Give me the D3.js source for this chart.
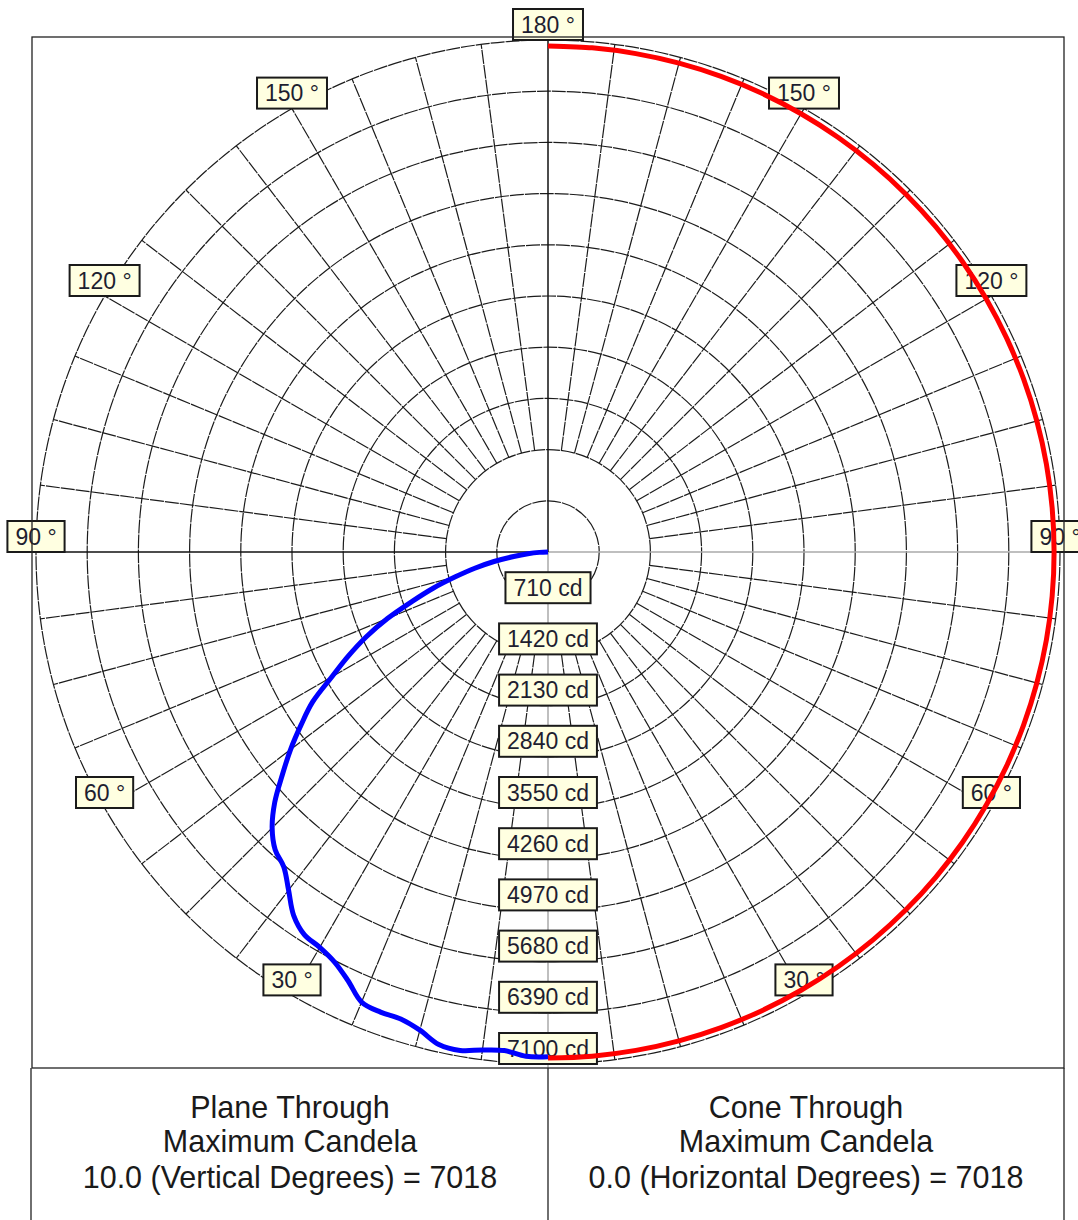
<!DOCTYPE html>
<html>
<head>
<meta charset="utf-8">
<script src="https://cdn.jsdelivr.net/npm/d3@7"></script>
<style>
  html, body { margin: 0; padding: 0; background: #fff; }
  svg { display: block; }
  text { font-family: "Liberation Sans", Arial, sans-serif; }
</style>
</head>
<body>
<svg id="chart" width="1078" height="1220"></svg>
<script>
// Candela rings (cd) labelled along the lower vertical axis
const ringValues = [710, 1420, 2130, 2840, 3550, 4260, 4970, 5680, 6390, 7100];
const ringLabels = ringValues.map(v => v + " cd");

// Angle labels shown on both halves of the diagram
const angleTicks = [30, 60, 90, 120, 150, 180];
const angleLabels = angleTicks.map(a => a + " °");

// Plane through maximum candela: vertical angle (deg) -> candela
const planeAngles = [0, 2.5, 5, 7.5, 10, 12.5, 15, 17.5, 20, 22.5, 25, 27.5, 30, 32.5, 35, 37.5,
  40, 42.5, 45, 47.5, 50, 52.5, 55, 57.5, 60, 62.5, 65, 67.5, 70, 72.5, 75, 77.5, 80, 82.5, 85, 87.5, 90];
const planeCandela = [7000, 7000, 6940, 6965, 7018, 6995, 6865, 6790, 6790, 6755, 6560, 6410, 6330, 6290, 6150, 5910,
  5700, 5600, 5410, 5140, 4810, 4500, 4180, 3870, 3460, 3120, 2780, 2410, 2010, 1670, 1330, 1040, 760, 480, 280, 120, 0];

// Cone through maximum candela: horizontal angle (deg) -> candela
const coneAngles = d3.range(0, 181, 5);
const coneCandela = coneAngles.map(() => 7018);

// Summary table text
const planeText = ["Plane Through", "Maximum Candela", "10.0 (Vertical Degrees) = 7018"];
const coneText = ["Cone Through", "Maximum Candela", "0.0 (Horizontal Degrees) = 7018"];

const svg = d3.select("#chart");
const cx = 548, cy = 552;
const rScale = d3.scaleLinear().domain([0, 7100]).range([0, 512]);
const deg = Math.PI / 180;
const gridColor = "#1c1c1c";

const g = svg.append("g").attr("transform", `translate(${cx},${cy})`);

// Outer frame of the diagram and the summary table
svg.append("rect").attr("x", 32).attr("y", 37).attr("width", 1032).attr("height", 1031)
  .attr("fill", "none").attr("stroke", "#222").attr("stroke-width", 1.3);
svg.append("line").attr("x1", 31).attr("x2", 31).attr("y1", 1068).attr("y2", 1220)
  .attr("stroke", "#222").attr("stroke-width", 1.3);
svg.append("line").attr("x1", 548).attr("x2", 548).attr("y1", 1068).attr("y2", 1220)
  .attr("stroke", "#222").attr("stroke-width", 1.3);
svg.append("line").attr("x1", 1064).attr("x2", 1064).attr("y1", 1068).attr("y2", 1220)
  .attr("stroke", "#222").attr("stroke-width", 1.3);

// Rings
g.selectAll("circle.ring").data(ringValues).join("circle")
  .attr("class", "ring")
  .attr("r", d => rScale(d))
  .attr("fill", "none").attr("stroke", gridColor).attr("stroke-width", 1.2)
  .attr("stroke-dasharray", "14,1");

// Radial spokes every 7.5 degrees, starting at the second ring
const spokes = d3.range(0, 360, 7.5).filter(a => a % 90 !== 0);
g.selectAll("line.spoke").data(spokes).join("line")
  .attr("class", "spoke")
  .attr("x1", a => rScale(ringValues[1]) * Math.sin(a * deg))
  .attr("y1", a => -rScale(ringValues[1]) * Math.cos(a * deg))
  .attr("x2", a => rScale(7100) * Math.sin(a * deg))
  .attr("y2", a => -rScale(7100) * Math.cos(a * deg))
  .attr("stroke", gridColor).attr("stroke-width", 1.2)
  .attr("stroke-dasharray", "14,1");

// Main axes: upper and left halves black, lower and right halves grey
g.append("line").attr("x1", 32 - cx).attr("x2", 0).attr("y1", 0).attr("y2", 0)
  .attr("stroke", "#111").attr("stroke-width", 1.5);
g.append("line").attr("x1", 0).attr("x2", 1064 - cx).attr("y1", 0).attr("y2", 0)
  .attr("stroke", "#aaa").attr("stroke-width", 1.5);
g.append("line").attr("x1", 0).attr("x2", 0).attr("y1", 37 - cy).attr("y2", 0)
  .attr("stroke", "#111").attr("stroke-width", 1.5);
g.append("line").attr("x1", 0).attr("x2", 0).attr("y1", 0).attr("y2", 1068 - cy)
  .attr("stroke", "#aaa").attr("stroke-width", 1.5);

// Label box helper: text centred at (x, y)
function labelBox(parent, x, y, txt) {
  const grp = parent.append("g").attr("transform", `translate(${x},${y})`);
  const rect = grp.append("rect");
  const t = grp.append("text")
    .attr("text-anchor", "middle")
    .attr("y", 8)
    .attr("font-size", 23)
    .attr("fill", "#1e1e30")
    .text(txt);
  const w = t.node().getComputedTextLength() + 16;
  rect.attr("x", -w / 2).attr("y", -15.5).attr("width", w).attr("height", 31)
    .attr("fill", "#ffffe1").attr("stroke", "#1a1a1a").attr("stroke-width", 2);
}

// Candela labels: box bottom sits on each ring
ringValues.forEach((v, i) => labelBox(g, 0, rScale(v) - 15.5, ringLabels[i]));

// Angle labels: box bottom-centre sits on the outer ring, both sides
const R = rScale(7100);
angleTicks.forEach((a, i) => {
  const y = -R * Math.cos((180 - a) * deg) - 15.5;
  const dx = R * Math.sin(a * deg);
  if (a === 180) {
    labelBox(g, 0, y, angleLabels[i]);
  } else {
    labelBox(g, -dx, y, angleLabels[i]);
    labelBox(g, dx, y, angleLabels[i]);
  }
});

// Curves
const planeLine = d3.lineRadial()
  .angle(d => Math.PI + d[0] * deg)
  .radius(d => rScale(d[1]))
  .curve(d3.curveCatmullRom);
const coneLine = d3.lineRadial()
  .angle(d => Math.PI - d[0] * deg)
  .radius(d => rScale(d[1]))
  .curve(d3.curveCatmullRom);

g.append("path")
  .datum(coneAngles.map((a, i) => [a, coneCandela[i]]))
  .attr("d", coneLine)
  .attr("fill", "none").attr("stroke", "#ff0000").attr("stroke-width", 5);

g.append("path")
  .datum(planeAngles.map((a, i) => [a, planeCandela[i]]))
  .attr("d", planeLine)
  .attr("fill", "none").attr("stroke", "#0000ff").attr("stroke-width", 5);

// Summary table text
function tableText(x, lines) {
  const t = svg.append("text").attr("text-anchor", "middle")
    .attr("font-size", 30.5).attr("fill", "#1a1a1a");
  [1118, 1152, 1188].forEach((y, i) => {
    t.append("tspan").attr("x", x).attr("y", y).text(lines[i]);
  });
}
tableText(290, planeText);
tableText(806, coneText);
</script>
</body>
</html>
